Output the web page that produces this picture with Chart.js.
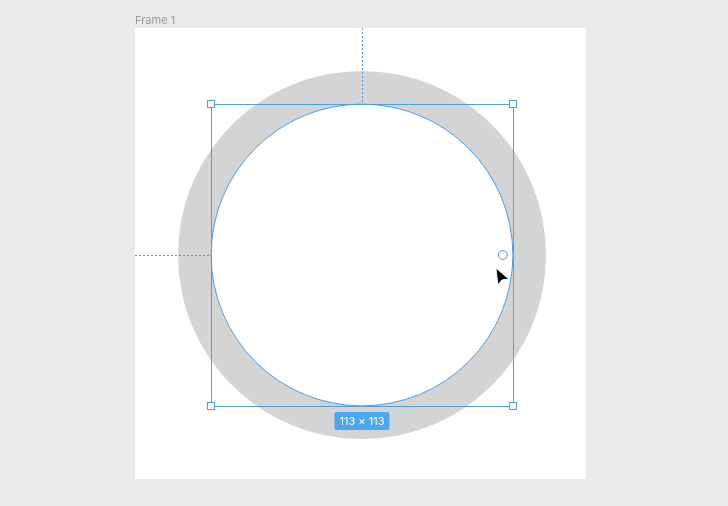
<!DOCTYPE html>
<html><head><meta charset="utf-8">
<script src="https://cdn.jsdelivr.net/npm/chart.js@4/dist/chart.umd.min.js"></script>
<style>html,body{margin:0;padding:0;background:#ebebeb;}canvas{display:block}</style>
</head><body>
<div style="width:728px;height:506px"><canvas id="c"></canvas></div>
<script>
const categories = ['Ellipse'];
const values = [1];
const sizeLabel = '113 × 113';
const frameLabel = 'Frame 1';

const overlay = {
  id: 'overlay',
  beforeDraw(chart) {
    const ctx = chart.ctx;
    ctx.save();
    ctx.fillStyle = '#ebebeb';
    ctx.fillRect(0, 0, chart.width, chart.height);
    ctx.fillStyle = '#ffffff';
    ctx.fillRect(135, 28, 451, 451);
    ctx.fillStyle = '#9a9a9a';
    ctx.font = '11px "Inter", "Noto Sans", sans-serif';
    ctx.textBaseline = 'alphabetic';
    ctx.fillText(frameLabel, 135, 24);
    ctx.restore();
  },
  afterDraw(chart) {
    const arc = chart.getDatasetMeta(0).data[0];
    const cx = arc.x, cy = arc.y, r = arc.innerRadius;
    const ctx = chart.ctx;
    const blue = '#4a9fe6';
    ctx.save();
    ctx.strokeStyle = blue; ctx.lineWidth = 1;
    // dashed guides
    ctx.setLineDash([2, 2]);
    ctx.beginPath();
    ctx.moveTo(Math.round(cx) + 0.5, 28); ctx.lineTo(Math.round(cx) + 0.5, cy - r);
    ctx.moveTo(135, Math.round(cy) + 0.5); ctx.lineTo(cx - r, Math.round(cy) + 0.5);
    ctx.stroke();
    ctx.setLineDash([]);
    // inner circle outline
    ctx.beginPath(); ctx.arc(cx, cy, r, 0, Math.PI * 2); ctx.stroke();
    // bounding box
    ctx.strokeRect(Math.round(cx - r) + 0.5, Math.round(cy - r) + 0.5, Math.round(2 * r), Math.round(2 * r));
    // handles
    const corners = [[cx - r, cy - r], [cx + r, cy - r], [cx - r, cy + r], [cx + r, cy + r]];
    corners.forEach(([x, y]) => {
      ctx.fillStyle = '#fff';
      ctx.fillRect(Math.round(x) - 3.5, Math.round(y) - 3.5, 7, 7);
      ctx.strokeRect(Math.round(x) - 3.5, Math.round(y) - 3.5, 7, 7);
    });
    // radius handle
    ctx.beginPath(); ctx.arc(cx + r - 10, cy, 4.5, 0, Math.PI * 2);
    ctx.fillStyle = '#fff'; ctx.fill(); ctx.strokeStyle = '#6a8fb0'; ctx.stroke();
    // badge
    ctx.font = '11px "Inter", "Noto Sans", sans-serif';
    const w = ctx.measureText(sizeLabel).width + 10;
    const bx = cx - w / 2, by = cy + r + 6, bh = 18;
    ctx.fillStyle = '#4aa7f2';
    ctx.beginPath(); ctx.roundRect(bx, by, w, bh, 2); ctx.fill();
    ctx.fillStyle = '#fff'; ctx.textAlign = 'center'; ctx.textBaseline = 'middle';
    ctx.fillText(sizeLabel, cx, by + bh / 2 + 0.5);
    // cursor
    const px = cx + r - 17, py = cy + 13;
    ctx.beginPath();
    ctx.moveTo(px, py); ctx.lineTo(px + 2, py + 17); ctx.lineTo(px + 6, py + 12);
    ctx.lineTo(px + 13, py + 11); ctx.closePath();
    ctx.fillStyle = '#000'; ctx.fill();
    ctx.strokeStyle = '#fff'; ctx.lineWidth = 1; ctx.stroke();
    ctx.restore();
  }
};

new Chart(document.getElementById('c'), {
  type: 'doughnut',
  data: { labels: categories, datasets: [{ data: values, backgroundColor: ['#d4d4d4'], borderWidth: 0 }] },
  options: {
    responsive: true, maintainAspectRatio: false, animation: false,
    cutout: '82%',
    layout: { padding: { left: 178, right: 182, top: 71, bottom: 67 } },
    plugins: { legend: { display: false }, tooltip: { enabled: false } },
    events: []
  },
  plugins: [overlay]
});
</script>
</body></html>
